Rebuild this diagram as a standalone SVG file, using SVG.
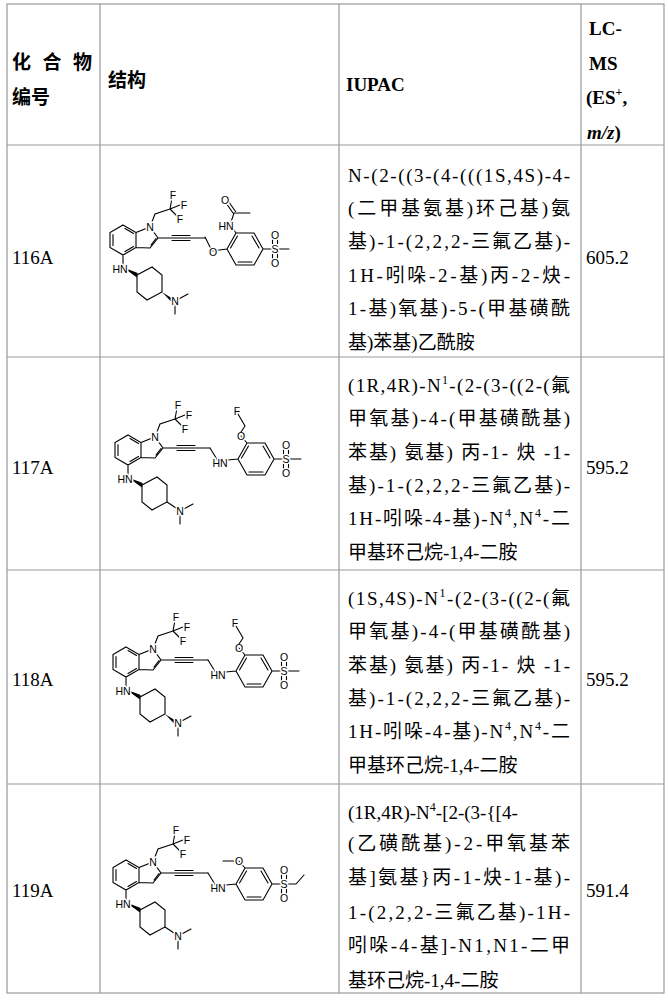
<svg xmlns="http://www.w3.org/2000/svg" xmlns:xlink="http://www.w3.org/1999/xlink" width="668" height="1000" viewBox="0 0 668 1000">
<style>
.g{stroke:#999;stroke-width:1.2;fill:none}
.t{font-family:"Liberation Serif","Noto Sans CJK SC",serif;font-size:19px;fill:#000}
.h{font-family:"Liberation Serif","Noto Sans CJK SC",serif;font-size:19px;font-weight:bold;fill:#000}
.b{stroke:#000;stroke-width:1.1;fill:none;stroke-linecap:round}
.a{font-family:"Liberation Sans",Arial,sans-serif;font-size:10.5px;fill:#000;stroke:#fff;stroke-width:3;paint-order:stroke;text-anchor:middle;dominant-baseline:central}
.sup{font-size:12px}
</style>
<defs>
<g id="core">
<path class="b" d="M123,225L136,232.5L136,247.5L123,255L110,247.5L110,232.5Z M113,234.5L113,245.5 M125,228.5L133.5,233.5 M125,251.5L133.5,246.5 M136,232.5L150,227L158,238L150,248L136,247.5 M151,245L156,238.5 M150,227L155,214L170,209 M170,209L172,198 M170,209L180,205 M170,209L178,217 M158,238L172,238 M172,235.5L190,235.5 M172,238L190,238 M172,240.5L190,240.5 M190,238L205,238 M123,255L123,265 M137,275L152,267L162,275L162,292L147,300L137,292Z"/>
<path d="M127,269.5L137,273.5L136.5,276.5Z" stroke="#000" stroke-width="1.2" fill="#000"/>
<text class="a" x="150" y="227">N</text>
<text class="a" x="173" y="195">F</text>
<text class="a" x="184" y="205">F</text>
<text class="a" x="180" y="219">F</text>
<text class="a" x="120" y="269">HN</text>
</g>
<g id="nme2">
<path class="b" d="M175,301L188,294 M175,301L175,314"/>
<text class="a" x="175" y="301">N</text>
</g>
<g id="so2">
<path class="b" d="M-2.5,5L-2.5,10 M2.5,5L2.5,10 M-2.5,-10L-2.5,-5 M2.5,-10L2.5,-5"/>
<text class="a" x="0" y="0">S</text>
<text class="a" x="0" y="-14">O</text>
<text class="a" x="0" y="14">O</text>
</g>
<g id="arN">
<path class="b" d="M205,238L213,251L233,249 M233,249L242,233L260,233L269,249L260,265L242,265Z M236.5,248L243.5,236 M244,262L258,262 M258,236L265,248 M269,249L279,249 M242,233L236,226"/>
<text class="a" x="215" y="253">HN</text>
<use xlink:href="#so2" x="281" y="249"/>
<text class="a" x="236" y="226">O</text>
</g>
</defs>
<g id="grid" class="g">
<rect x="7" y="4" width="657" height="989"/>
<path d="M100,4V993 M339,4V993 M581,4V993 M7,145H664 M7,357H664 M7,570H664 M7,784H664"/>
</g>
<g id="header">
<text class="h" x="12" y="69" textLength="80">化 合 物</text>
<text class="h" x="12" y="104">编号</text>
<text class="h" x="108" y="87">结构</text>
<text class="h" x="346" y="91">IUPAC</text>
<text class="h" x="589" y="35">LC-</text>
<text class="h" x="589" y="70">MS</text>
<text class="h" x="586" y="104">(ES<tspan class="sup" dy="-8">+</tspan><tspan dy="8">,</tspan></text>
<text class="h" x="587" y="139"><tspan font-style="italic">m/z</tspan>)</text>
</g>
<g id="row116A">
<text class="t" x="12" y="264">116A</text>
<text class="t" x="586" y="264">605.2</text>
<text class="t" x="348" y="182" textLength="222">N-(2-((3-(4-(((1S,4S)-4-</text>
<text class="t" x="348" y="215" textLength="222">(二甲基氨基)环己基)氨</text>
<text class="t" x="348" y="248" textLength="222">基)-1-(2,2,2-三氟乙基)-</text>
<text class="t" x="348" y="282" textLength="222">1H-吲哚-2-基)丙-2-炔-</text>
<text class="t" x="348" y="315" textLength="222">1-基)氧基)-5-(甲基磺酰</text>
<text class="t" x="348" y="349">基)苯基)乙酰胺</text>
<g id="s116A">
<use xlink:href="#core"/>
<path d="M162,292L173,299L171.5,302Z" fill="#000"/>
<use xlink:href="#nme2"/>
<path class="b" d="M205,237L212,251L227,249 M227,249L236,233L254,233L263,249L254,265L236,265Z M230.5,248L237.5,236 M238,262L252,262 M252,236L259,248 M263,249L273,249 M276,249L289,249 M236,233L231,226 M230,225L234,213L250,213 M233,213L226,203 M235.5,211.5L228.5,201.5"/>
<text class="a" x="213" y="252">O</text>
<text class="a" x="226" y="226">HN</text>
<text class="a" x="225" y="200">O</text>
<use xlink:href="#so2" x="275" y="249"/>
</g>
</g>
<g id="row117A">
<text class="t" x="12" y="474">117A</text>
<text class="t" x="586" y="474">595.2</text>
<text class="t" x="348" y="392" textLength="222">(1R,4R)-N<tspan class="sup" dy="-8">1</tspan><tspan dy="8">-(2-(3-((2-(氟</tspan></text>
<text class="t" x="348" y="425" textLength="222">甲氧基)-4-(甲基磺酰基)</text>
<text class="t" x="348" y="459" textLength="222">苯基) 氨基) 丙-1- 炔 -1-</text>
<text class="t" x="348" y="492" textLength="222">基)-1-(2,2,2-三氟乙基)-</text>
<text class="t" x="348" y="525" textLength="222">1H-吲哚-4-基)-N<tspan class="sup" dy="-8">4</tspan><tspan dy="8">,N</tspan><tspan class="sup" dy="-8">4</tspan><tspan dy="8">-二</tspan></text>
<text class="t" x="348" y="559">甲基环己烷-1,4-二胺</text>
<g id="s117A" transform="translate(5,210)">
<use xlink:href="#core"/>
<path class="b" d="M162,292L174,300 M283,249L296,249"/>
<use xlink:href="#nme2"/>
<use xlink:href="#arN"/>
<path class="b" d="M236,222L240,216L233,204"/>
<text class="a" x="232" y="201">F</text>
</g>
</g>
<g id="row118A">
<text class="t" x="12" y="686">118A</text>
<text class="t" x="586" y="686">595.2</text>
<text class="t" x="348" y="605" textLength="222">(1S,4S)-N<tspan class="sup" dy="-8">1</tspan><tspan dy="8">-(2-(3-((2-(氟</tspan></text>
<text class="t" x="348" y="638" textLength="222">甲氧基)-4-(甲基磺酰基)</text>
<text class="t" x="348" y="672" textLength="222">苯基) 氨基) 丙-1- 炔 -1-</text>
<text class="t" x="348" y="705" textLength="222">基)-1-(2,2,2-三氟乙基)-</text>
<text class="t" x="348" y="738" textLength="222">1H-吲哚-4-基)-N<tspan class="sup" dy="-8">4</tspan><tspan dy="8">,N</tspan><tspan class="sup" dy="-8">4</tspan><tspan dy="8">-二</tspan></text>
<text class="t" x="348" y="772">甲基环己烷-1,4-二胺</text>
<g id="s118A" transform="translate(3,422)">
<use xlink:href="#core"/>
<path d="M162,292L173,299L171.5,302Z" fill="#000"/>
<path class="b" d="M283,249L296,249"/>
<use xlink:href="#nme2"/>
<use xlink:href="#arN"/>
<path class="b" d="M236,222L240,216L233,204"/>
<text class="a" x="232" y="201">F</text>
</g>
</g>
<g id="row119A">
<text class="t" x="12" y="897">119A</text>
<text class="t" x="586" y="897">591.4</text>
<text class="t" x="348" y="819">(1R,4R)-N<tspan class="sup" dy="-8">4</tspan><tspan dy="8">-[2-(3-{[4-</tspan></text>
<text class="t" x="348" y="850" textLength="222">(乙磺酰基)-2-甲氧基苯</text>
<text class="t" x="348" y="884" textLength="222">基]氨基}丙-1-炔-1-基)-</text>
<text class="t" x="348" y="919" textLength="222">1-(2,2,2-三氟乙基)-1H-</text>
<text class="t" x="348" y="952" textLength="222">吲哚-4-基]-N1,N1-二甲</text>
<text class="t" x="348" y="987">基环己烷-1,4-二胺</text>
<g id="s119A" transform="translate(3,635)">
<use xlink:href="#core"/>
<path class="b" d="M162,292L174,300 M231,226L220,226 M283,249L293,249L301,240"/>
<use xlink:href="#nme2"/>
<use xlink:href="#arN"/>
</g>
</g>
</svg>
